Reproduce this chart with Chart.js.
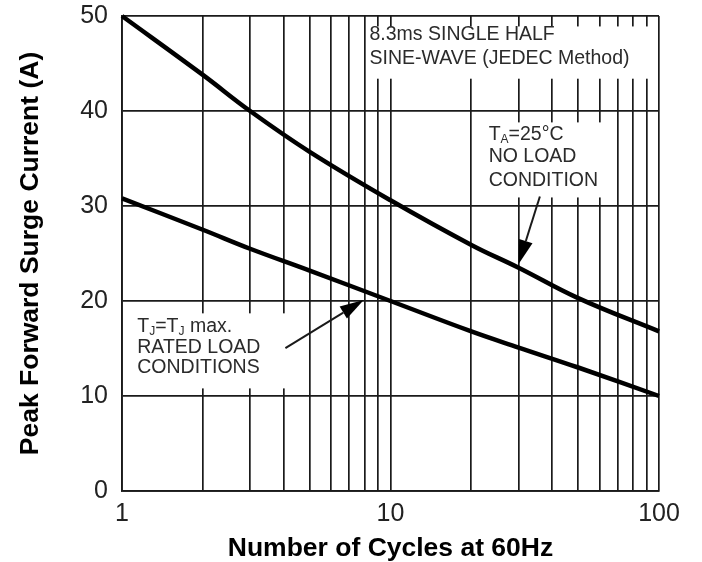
<!DOCTYPE html>
<html>
<head>
<meta charset="utf-8">
<script src="https://cdn.jsdelivr.net/npm/chart.js@4"></script>
<style>
  html, body { margin: 0; padding: 0; background: #fff; }
  #wrap { width: 702px; height: 562px; }
</style>
</head>
<body>
<div id="wrap"><canvas id="surge" width="702" height="562"></canvas></div>
<script>
// values
const cycles = [1, 2, 3, 5, 10, 20, 30, 50, 100];
const noLoad = [50, 43.8, 40, 35.7, 30.6, 25.9, 23.5, 20.3, 16.8];
const ratedLoad = [30.8, 27.5, 25.5, 23.2, 20, 16.8, 15.1, 13, 10];

const xTicks = [1, 2, 3, 4, 5, 6, 7, 8, 9, 10, 20, 30, 40, 50, 60, 70, 80, 90, 100];
const xLabels = [1, 10, 100];
const yTicks = [0, 10, 20, 30, 40, 50];

const FONT = "'Liberation Sans', Arial, sans-serif";
const INK = '#1a1a1a';

// annotation boxes are in data units: [xMin, yMax, xMax, yMin]
const notes = [
  { box: [8.2, 48.9, 96, 43.4], x: 8.35, ys: [48.0, 45.5],
    lines: [[['8.3ms SINGLE HALF']], [['SINE-WAVE (JEDEC Method)']]] },
  { box: [22.6, 38.8, 65, 30.9], x: 23.2, ys: [37.5, 35.2, 32.7],
    lines: [[['T'], ['A', true], ['=25°C']], [['NO LOAD']], [['CONDITION']]] },
  { box: [1.04, 18.7, 4.4, 10.8], x: 1.14, ys: [17.3, 15.05, 12.95],
    lines: [[['T'], ['J', true], ['=T'], ['J', true], [' max.']], [['RATED LOAD']], [['CONDITIONS']]] }
];
// arrows: tail -> tip, in data units
const arrows = [
  { from: [36, 31], to: [30, 23.9] },
  { from: [4.06, 15.05], to: [7.95, 20.1] }
];

function drawRich(ctx, parts, x, y) {
  let cx = x;
  parts.forEach(([txt, sub]) => {
    ctx.font = (sub ? '12px ' : '19.5px ') + FONT;
    ctx.fillText(txt, cx, sub ? y + 5 : y);
    cx += ctx.measureText(txt).width;
  });
}

const notesPlugin = {
  id: 'notes',
  beforeDatasetsDraw(chart) {
    const { ctx, scales: { x, y } } = chart;
    ctx.save();
    notes.forEach(n => {
      const l = x.getPixelForValue(n.box[0]), t = y.getPixelForValue(n.box[1]);
      const r = x.getPixelForValue(n.box[2]), b = y.getPixelForValue(n.box[3]);
      ctx.fillStyle = '#fff';
      ctx.fillRect(l, t, r - l, b - t);
      ctx.fillStyle = '#2b2b2b';
      ctx.textBaseline = 'middle';
      ctx.textAlign = 'left';
      n.lines.forEach((parts, i) => {
        drawRich(ctx, parts, x.getPixelForValue(n.x), y.getPixelForValue(n.ys[i]));
      });
    });
    arrows.forEach(a => {
      const x0 = x.getPixelForValue(a.from[0]), y0 = y.getPixelForValue(a.from[1]);
      const x1 = x.getPixelForValue(a.to[0]), y1 = y.getPixelForValue(a.to[1]);
      const ang = Math.atan2(y1 - y0, x1 - x0);
      const len = 24, half = 7;
      const bx = x1 - len * Math.cos(ang), by = y1 - len * Math.sin(ang);
      ctx.strokeStyle = INK;
      ctx.lineWidth = 2;
      ctx.beginPath();
      ctx.moveTo(x0, y0);
      ctx.lineTo(bx, by);
      ctx.stroke();
      ctx.fillStyle = '#000';
      ctx.beginPath();
      ctx.moveTo(x1, y1);
      ctx.lineTo(bx + half * Math.sin(ang), by - half * Math.cos(ang));
      ctx.lineTo(bx - half * Math.sin(ang), by + half * Math.cos(ang));
      ctx.closePath();
      ctx.fill();
    });
    ctx.restore();
  }
};

const lineStyle = {
  borderColor: '#000',
  borderWidth: 4.5,
  pointRadius: 0,
  tension: 0.4,
  clip: 6
};

new Chart(document.getElementById('surge'), {
  type: 'line',
  data: {
    datasets: [
      { label: 'No load', data: cycles.map((c, i) => ({ x: c, y: noLoad[i] })), ...lineStyle },
      { label: 'Rated load', data: cycles.map((c, i) => ({ x: c, y: ratedLoad[i] })), ...lineStyle }
    ]
  },
  options: {
    responsive: false,
    animation: false,
    layout: { padding: { top: 16, right: 43, left: 0, bottom: 0 } },
    plugins: {
      legend: { display: false },
      tooltip: { enabled: false }
    },
    scales: {
      x: {
        type: 'logarithmic',
        min: 1,
        max: 100,
        afterBuildTicks: scale => { scale.ticks = xTicks.map(v => ({ value: v })); },
        afterFit: scale => {
          scale.height = 71;
          scale.paddingLeft = 0;
          scale.paddingRight = 0;
        },
        grid: { color: INK, lineWidth: 1.7, drawTicks: false },
        border: { color: INK, width: 1.8 },
        ticks: {
          autoSkip: false,
          maxRotation: 0,
          padding: 8,
          color: '#222',
          font: { family: FONT, size: 25 },
          callback: v => xLabels.includes(v) ? String(v) : ''
        },
        title: {
          display: true,
          text: 'Number of Cycles at 60Hz',
          color: '#000',
          font: { family: FONT, size: 26.5, weight: 'bold', lineHeight: 1 },
          padding: { top: 0, bottom: 0 }
        }
      },
      y: {
        min: 0,
        max: 50,
        afterBuildTicks: scale => { scale.ticks = yTicks.map(v => ({ value: v })); },
        afterFit: scale => {
          scale.width = 122;
          scale.paddingTop = 0;
          scale.paddingBottom = 0;
        },
        grid: { color: INK, lineWidth: 1.7, drawTicks: false },
        border: { color: INK, width: 1.8 },
        ticks: {
          padding: 14,
          color: '#222',
          font: { family: FONT, size: 25 }
        },
        title: {
          display: true,
          text: 'Peak Forward Surge Current (A)',
          color: '#000',
          font: { family: FONT, size: 26.5, weight: 'bold', lineHeight: 1 },
          padding: { top: 17, bottom: 0 }
        }
      }
    }
  },
  plugins: [notesPlugin]
});
</script>
</body>
</html>
